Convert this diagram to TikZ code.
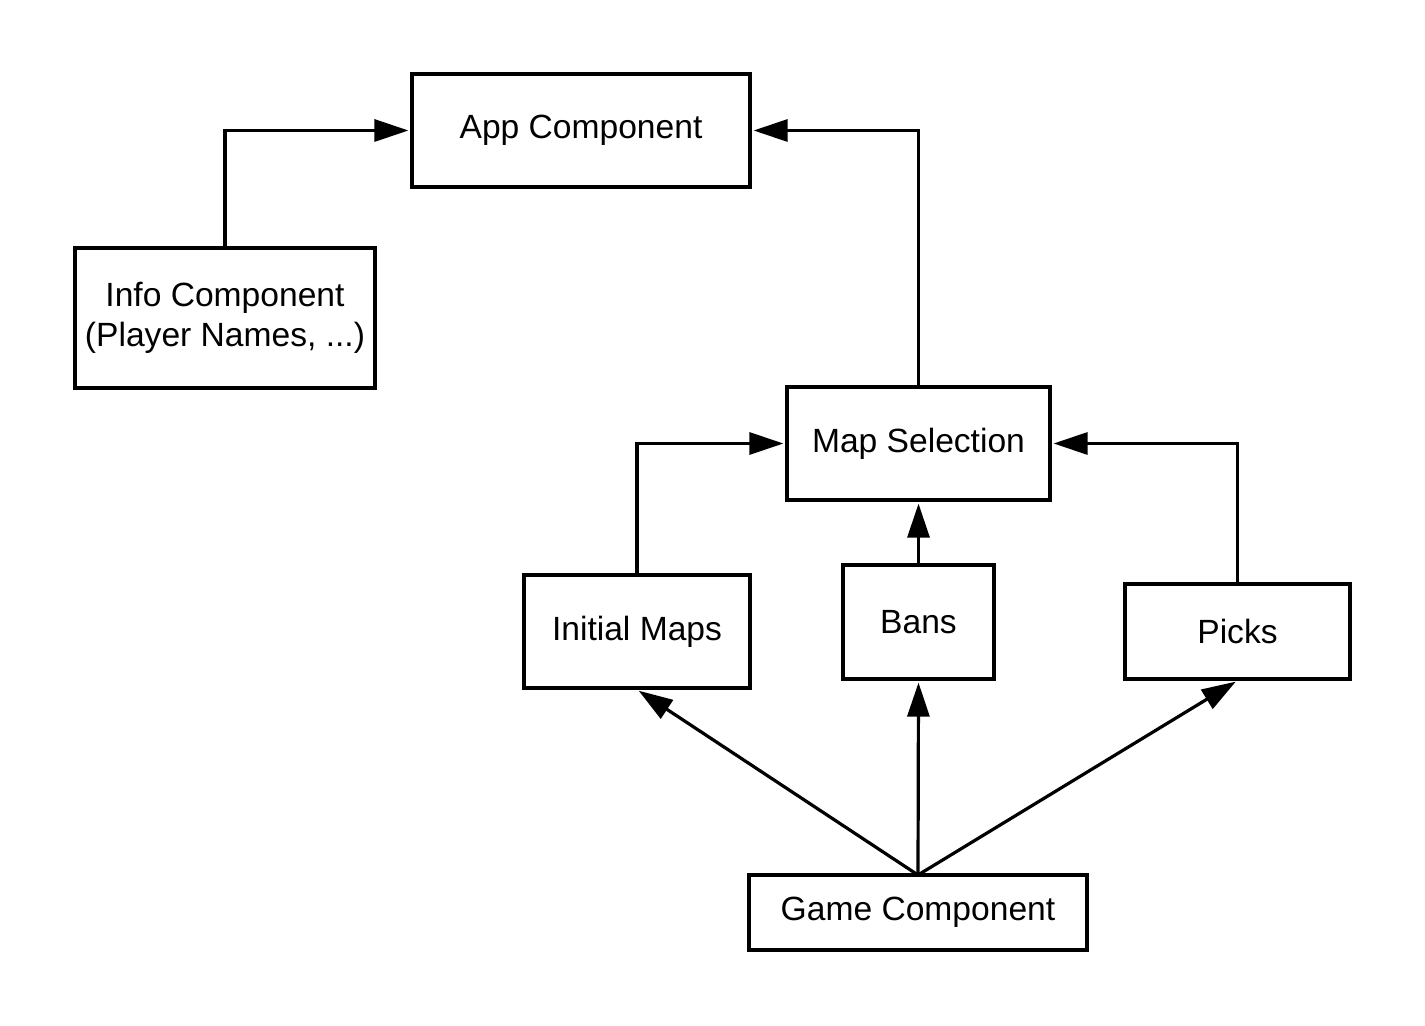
\documentclass[tikz,border=0pt]{standalone}
\usepackage{fontspec}
\setmainfont{Liberation Sans}
\usetikzlibrary{arrows.meta}
\begin{document}
\begin{tikzpicture}[x=0.5pt,y=-0.5pt,
  box/.style={draw=black,line width=1.6pt,fill=white,inner sep=0pt,align=center,
    font=\fontsize{16.8pt}{20pt}\selectfont},
  conn/.style={line width=1.6pt,-{Triangle[length=17pt,width=11pt]},shorten >=1pt}]
\useasboundingbox[fill=white] (0,0) rectangle (1425,1026);
\node[box,minimum width=169pt,minimum height=56.5pt] (app) at (581,130.5) {App Component};
\node[box,minimum width=150pt,minimum height=70pt] (info) at (225,318) {Info Component\\(Player Names, ...)};
\node[box,minimum width=131.5pt,minimum height=56.5pt] (map) at (918.5,443.5) {Map Selection};
\node[box,minimum width=113pt,minimum height=56.5pt] (init) at (637,631.5) {Initial Maps};
\node[box,minimum width=75.5pt,minimum height=57pt] (bans) at (918.5,622) {Bans};
\node[box,minimum width=112.5pt,minimum height=47.5pt] (picks) at (1237.5,631.5) {Picks};
\node[box,minimum width=169pt,minimum height=37.5pt] (game) at (918,912.5) {Game Component};
\coordinate (gtop) at (918,875);
\draw[conn] (info.north) |- (app.west);
\draw[conn] (map.north) |- (app.east);
\draw[conn] (init.north) |- (map.west);
\draw[conn] (picks.north) |- (map.east);
\draw[conn] (bans.north) -- (map.south);
\draw[conn] (gtop) -- (init.south);
\draw[conn] (gtop) -- (bans.south);
\draw[conn] (gtop) -- (picks.south);
\end{tikzpicture}
\end{document}
